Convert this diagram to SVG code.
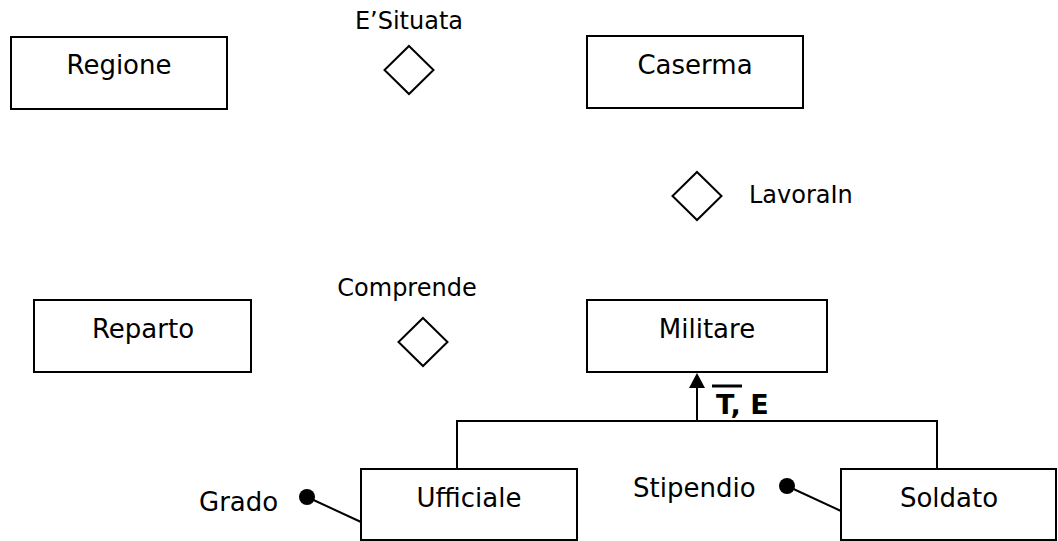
<svg xmlns="http://www.w3.org/2000/svg" width="1058" height="541" viewBox="0 0 1058 541">
<style>
  text { font-family: "DejaVu Sans", Verdana, sans-serif; fill: #000; }
  .ent rect { fill: #fff; stroke: #000; stroke-width: 2; }
  .ent text { font-size: 26px; text-anchor: middle; }
  .rel polygon { fill: #fff; stroke: #000; stroke-width: 2; }
  .rel text { font-size: 24px; }
  .attr text { font-size: 26px; }
  .attr circle { fill: #000; }
  .conn { stroke: #000; stroke-width: 2; fill: none; }
</style>
<rect width="1058" height="541" fill="#fff"/>

<g id="connectors">
  <path class="conn" d="M457,469 V421 H937 V469"/>
  <line x1="697" y1="421" x2="697" y2="387" class="conn"/>
  <polygon points="697,373 689,388 705,388" fill="#000"/>
  <line x1="307" y1="497" x2="361" y2="522" class="conn"/>
  <line x1="787" y1="486" x2="841" y2="511" class="conn"/>
</g>

<g id="Regione" class="ent">
  <rect x="11" y="37" width="216" height="72"/>
  <text x="119" y="74">Regione</text>
</g>
<g id="Caserma" class="ent">
  <rect x="587" y="36" width="216" height="72"/>
  <text x="695" y="74">Caserma</text>
</g>
<g id="Reparto" class="ent">
  <rect x="34" y="300" width="217" height="72"/>
  <text x="143" y="338">Reparto</text>
</g>
<g id="Militare" class="ent">
  <rect x="587" y="300" width="240" height="72"/>
  <text x="707" y="338">Militare</text>
</g>
<g id="Ufficiale" class="ent">
  <rect x="361" y="469" width="216" height="71"/>
  <text x="469" y="507">Ufficiale</text>
</g>
<g id="Soldato" class="ent">
  <rect x="841" y="469" width="215" height="71"/>
  <text x="949" y="507">Soldato</text>
</g>

<g id="ESituata" class="rel">
  <polygon points="409,46 433.5,70 409,94 384.5,70"/>
  <text x="409" y="29" text-anchor="middle">E’Situata</text>
</g>
<g id="LavoraIn" class="rel">
  <polygon points="697,172 721.5,196 697,220 672.5,196"/>
  <text x="749" y="203">LavoraIn</text>
</g>
<g id="Comprende" class="rel">
  <polygon points="423,318 447.5,342 423,366 398.5,342"/>
  <text x="407" y="296" text-anchor="middle">Comprende</text>
</g>

<g id="gen-label">
  <line x1="712" y1="386" x2="742" y2="386" stroke="#000" stroke-width="3"/>
  <text x="716" y="414" font-size="27" font-weight="bold">T, E</text>
</g>

<g id="Grado" class="attr">
  <circle cx="307" cy="497" r="8"/>
  <text x="199" y="511">Grado</text>
</g>
<g id="Stipendio" class="attr">
  <circle cx="787" cy="486" r="8"/>
  <text x="633" y="497">Stipendio</text>
</g>
</svg>
